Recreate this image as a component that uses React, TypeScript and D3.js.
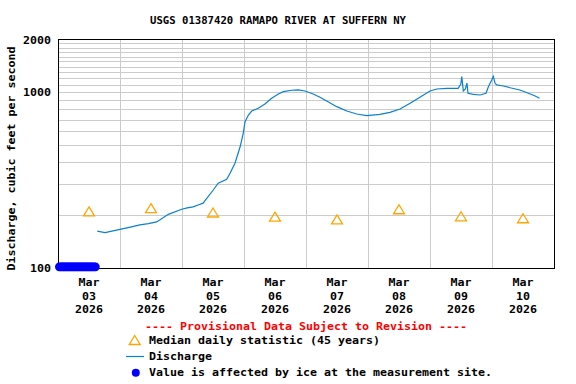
import React from "react";
import * as d3 from "d3";

const TITLE = "USGS 01387420 RAMAPO RIVER AT SUFFERN NY";
const Y_LABEL = "Discharge, cubic feet per second";
const Y_TICKS = [100, 1000, 2000];
const Y_GRID = [200, 300, 400, 500, 600, 700, 800, 900, 1000, 1100, 1200, 1300, 1400, 1500, 1600, 1700, 1800, 1900];
const DAY_LABELS = ["03", "04", "05", "06", "07", "08", "09", "10"];

// hours since 2026-03-03 00:00, discharge cfs
const flowHours = [15.2, 18.2, 24, 28, 31.7, 35, 38.2, 39.5, 42.7, 47.9, 50, 52.3, 54.5, 56.2, 56.9, 60.1, 62.0, 65.3, 66.6, 68.5, 70.5, 71.7, 72.4, 73.7, 75.0, 77.5, 80.1, 82.7, 85.3, 87.2, 90.5, 93.0, 95.6, 98.8, 101.4, 104.0, 107.9, 111.8, 115.6, 119.5, 124.6, 128.5, 132.4, 136.3, 140.1, 144.0, 146.6, 150.5, 154.9, 155.9, 156.3, 156.9, 157.7, 158.3, 158.7, 160.8, 163.4, 165.7, 166.6, 167.9, 168.5, 169.2, 169.8, 172.4, 175.0, 178.8, 182.1, 184.7, 186.4];
const flowCfs = [162, 159, 166, 171, 176, 179, 183, 188, 202, 216, 220, 223, 229, 234, 242, 278, 304, 320, 346, 395, 490, 585, 681, 743, 783, 812, 859, 925, 979, 1009, 1028, 1032, 1018, 979, 937, 893, 829, 783, 753, 737, 750, 770, 804, 867, 937, 1018, 1045, 1055, 1055, 1112, 1229, 1018, 1045, 1130, 988, 975, 966, 988, 1077, 1176, 1235, 1126, 1102, 1087, 1063, 1032, 988, 953, 925];

// median daily statistic (45 years), at noon of each day
const medianHours = [12, 36, 60, 84, 108, 132, 156, 180];
const medianCfs = [210, 219, 207, 196, 189, 216, 197, 192];

// ice-affected values
const iceHours = [0.5, 1, 1.5, 2, 2.5, 3, 3.5, 4, 4.5, 5, 5.5, 6, 6.5, 7, 7.5, 8, 8.5, 9, 9.5, 10, 10.5, 11, 11.5, 12, 12.5, 13, 13.5, 14, 14.5];
const iceCfs = 101.5;

const FONT = "'DejaVu Sans Mono', 'Liberation Mono', monospace";
const LINE_COLOR = "#0a80d0";
const ORANGE = "#ffa500";

function tri(cx: number, cy: number) {
  const w = 5.5, h = 4.5;
  return `M${cx},${cy - h}L${cx + w},${cy + h}L${cx - w},${cy + h}Z`;
}

function T(props: { x: number; y: number; s: string; adv?: number; anchor?: string; fill?: string; transform?: string }) {
  const adv = props.adv ?? 7.0;
  return (
    <text
      x={props.x}
      y={props.y}
      textAnchor={props.anchor ?? "start"}
      fontFamily={FONT}
      fontWeight="bold"
      fontSize={10}
      fill={props.fill ?? "#000"}
      textLength={props.s.length * adv}
      lengthAdjust="spacingAndGlyphs"
      transform={props.transform}
    >
      {props.s}
    </text>
  );
}

export default function App() {
  const left = 58, right = 554, top = 39.5, bottom = 268;
  const t0 = Date.UTC(2026, 2, 3);
  const hr = (h: number) => new Date(t0 + h * 3600000);
  const x = d3.scaleUtc().domain([hr(0), hr(192)]).range([left, right]);
  const y = d3.scaleLog().domain([100, 2000]).range([bottom, top]);

  const line = d3
    .line<number>()
    .x((_, i) => x(hr(flowHours[i])))
    .y((d) => y(d));
  const path = line(flowCfs) || "";

  const midnights = d3.utcDay.range(hr(24), hr(192));
  const noons = DAY_LABELS.map((_, i) => hr(12 + 24 * i));

  return (
    <svg width={576} height={384} style={{ position: "absolute", left: 0, top: 0, background: "#fff" }}>
      <rect x={0} y={0} width={576} height={384} fill="#fff" />
      {/* grid */}
      {Y_GRID.map((v) => (
        <line key={"gy" + v} x1={left} x2={right} y1={Math.round(y(v)) + 0.5} y2={Math.round(y(v)) + 0.5} stroke="#cccccc" strokeWidth={1} />
      ))}
      {midnights.map((d, i) => (
        <line key={"gx" + i} x1={Math.round(x(d)) + 0.5} x2={Math.round(x(d)) + 0.5} y1={top} y2={bottom} stroke="#cccccc" strokeWidth={1} />
      ))}
      {/* frame */}
      <rect x={left + 0.5} y={top} width={right - left} height={bottom - top + 0.5} fill="none" stroke="#000" strokeWidth={1} />

      {/* median triangles */}
      {medianHours.map((h, i) => (
        <path key={"m" + i} d={tri(x(hr(h)), y(medianCfs[i]))} fill="none" stroke={ORANGE} strokeWidth={1.3} />
      ))}

      {/* discharge */}
      <path d={path} fill="none" stroke={LINE_COLOR} strokeWidth={1.2} />

      {/* ice */}
      {iceHours.map((h, i) => (
        <circle key={"i" + i} cx={x(hr(h))} cy={y(iceCfs)} r={4.3} fill="#0000ff" />
      ))}

      {/* title */}
      <T x={150} y={24} s={TITLE} adv={6.4} />

      {/* y ticks */}
      {Y_TICKS.map((v) => (
        <T key={"yt" + v} x={51} y={y(v) + 4} s={String(v)} anchor="end" adv={7.0} />
      ))}

      {/* x labels */}
      {noons.map((d, i) => (
        <g key={"xl" + i}>
          <T x={x(d)} y={286} s="Mar" anchor="middle" />
          <T x={x(d)} y={299.5} s={DAY_LABELS[i]} anchor="middle" />
          <T x={x(d)} y={313} s="2026" anchor="middle" />
        </g>
      ))}

      {/* y label */}
      <T x={0} y={0} s={Y_LABEL} anchor="middle" transform={`translate(14.5,158.5) rotate(-90)`} />

      {/* legend */}
      <T x={145} y={330} s="---- Provisional Data Subject to Revision ----" fill="#ff0000" />
      <path d={tri(134.7, 340)} fill="none" stroke={ORANGE} strokeWidth={1.3} />
      <T x={149} y={344} s="Median daily statistic (45 years)" />
      <line x1={126} x2={144} y1={356.5} y2={356.5} stroke={LINE_COLOR} strokeWidth={1.2} />
      <T x={149} y={360} s="Discharge" />
      <circle cx={135.8} cy={372.8} r={4} fill="#0000ff" />
      <T x={149} y={376} s="Value is affected by ice at the measurement site." />
    </svg>
  );
}
